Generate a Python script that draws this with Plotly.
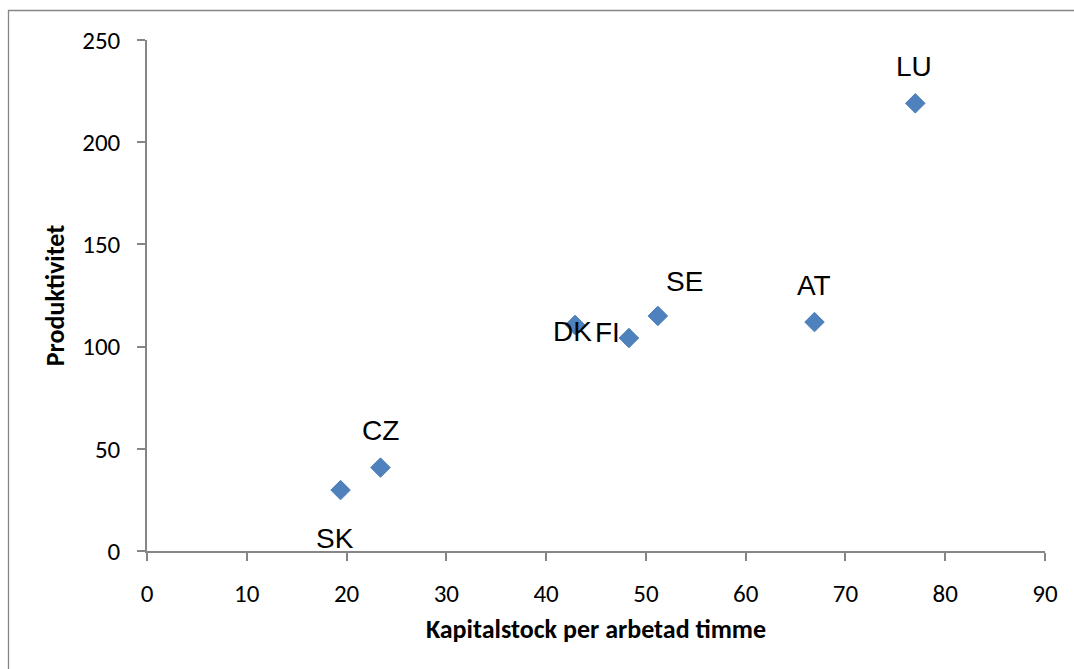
import plotly.graph_objects as go

countries = ["SK", "CZ", "DK", "FI", "SE", "AT", "LU"]
kapital = [19.4, 23.4, 42.9, 48.3, 51.2, 66.9, 77.0]
produktivitet = [29.8, 40.8, 110.6, 104.2, 115.0, 112.0, 219.0]

x_ticks = list(range(0, 91, 10))
y_ticks = list(range(0, 251, 50))

# label offsets in pixels (style)
label_dx = [-6, 0, -3, -21, 27, -1, -1]
label_dy = [-48, 37, -7, 6, 34, 37, 37]

W, H = 1074, 669
ML, MR, MT, MB = 147, 29, 40, 118
pw, ph = W - ML - MR, H - MT - MB

axis_col = "#868686"
tick_font = dict(family="Carlito, Lato, sans-serif", size=25, color="#000000")
title_font = dict(family="Carlito, Lato, sans-serif", size=26, color="#000000")

fig = go.Figure()
fig.add_trace(go.Scatter(
    x=kapital, y=produktivitet, mode="markers",
    marker=dict(symbol="diamond", size=15, color="#4F81BD",
                line=dict(color="#4A7EBB", width=1)),
    hoverinfo="skip", showlegend=False, cliponaxis=False,
))

for c, xv, yv, dx, dy in zip(countries, kapital, produktivitet, label_dx, label_dy):
    fig.add_annotation(x=xv, y=yv, text=c, showarrow=False,
                       xshift=dx, yshift=dy,
                       font=dict(family="Liberation Sans, Arial", size=28, color="#000000"))

# chart-area border (left and top visible; rest cropped)
def px_to_paper_x(px):
    return (px - ML) / pw

def py_to_paper_y(py):
    return (H - MB - py) / ph

fig.add_shape(type="rect", xref="paper", yref="paper",
              x0=px_to_paper_x(8.5), x1=px_to_paper_x(1200),
              y0=py_to_paper_y(800), y1=py_to_paper_y(10.5),
              line=dict(color=axis_col, width=1.3), fillcolor="rgba(0,0,0,0)",
              layer="below")

fig.update_layout(
    width=W, height=H,
    margin=dict(l=ML, r=MR, t=MT, b=MB, pad=0),
    paper_bgcolor="white", plot_bgcolor="white",
    xaxis=dict(range=[0, 90], tickvals=x_ticks, showgrid=False, zeroline=False,
               showline=True, linecolor=axis_col, linewidth=1.5,
               ticks="outside", ticklen=8, tickcolor=axis_col, tickwidth=1.5,
               tickfont=tick_font, ticklabelstandoff=11,
               title=dict(text="<b>Kapitalstock per arbetad timme</b>",
                          font=title_font, standoff=12)),
    yaxis=dict(range=[0, 250], tickvals=y_ticks, showgrid=False, zeroline=False,
               showline=True, linecolor=axis_col, linewidth=1.5,
               ticks="outside", ticklen=8, tickcolor=axis_col, tickwidth=1.5,
               tickfont=tick_font, ticklabelstandoff=12,
               title=dict(text="<b>Produktivitet</b>", font=title_font, standoff=10)),
)

fig.write_html("out.html")
